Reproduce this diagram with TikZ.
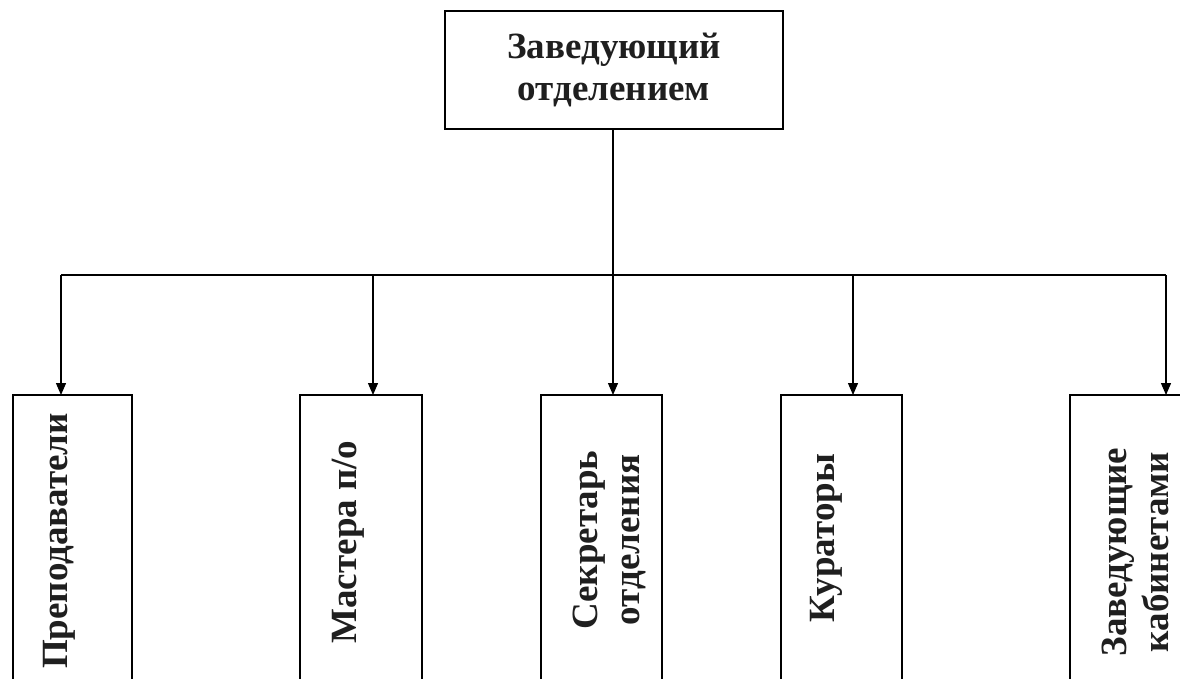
\documentclass[tikz,border=0pt]{standalone}
\usepackage{fontspec}
\setmainfont{Liberation Serif}
\usetikzlibrary{arrows.meta}
\begin{document}
\begin{tikzpicture}[x=1pt,y=-1pt,
  lab/.style={font=\bfseries\fontsize{37}{42}\selectfont, inner sep=0pt, text=black!88},
  topbox/.style={draw, line width=1.8pt, minimum width=338pt, minimum height=118pt, inner sep=0pt},
  subbox/.style={draw, line width=1.8pt, inner sep=0pt},
  conn/.style={line width=1.3pt},
  arr/.style={conn, -{Triangle[length=12pt,width=10pt]}}
]
\useasboundingbox (0,0) rectangle (1180,678);
\clip (0,0) rectangle (1180,678);
\fill[white] (0,0) rectangle (1180,678);

% top box
\node[topbox] (top) at (614,70) {};
\node[lab, align=center] (toptext) at (614,70) {Заведующий\\отделением};

% lower boxes (extend below the page)
\draw[subbox] (13,395) rectangle (132,720);
\coordinate (b1) at (72.5,395);
\draw[subbox] (300,395) rectangle (422,720);
\coordinate (b2) at (361,395);
\draw[subbox] (541,395) rectangle (662,720);
\coordinate (b3) at (601.5,395);
\draw[subbox] (781,395) rectangle (902,720);
\coordinate (b4) at (841.5,395);
\draw[subbox] (1070,395) rectangle (1195,720);
\coordinate (b5) at (1132.5,395);

% texts
\node[lab, rotate=90, anchor=base] (t1) at (67,541) {Преподаватели};
\node[lab, rotate=90, anchor=base] (t2) at (356,542) {Мастера п/о};
\node[lab, rotate=90, align=center] (t3) at (609,540) {Секретарь\\отделения};
\node[lab, rotate=90, anchor=base] (t4) at (834,538) {Кураторы};
\node[lab, rotate=90, align=center] (t5) at (1135,552) {Заведующие\\кабинетами};

% connectors
\coordinate (hub) at (613,275);
\coordinate (j1) at (61,275);
\coordinate (j2) at (373,275);
\coordinate (j3) at (613,275);
\coordinate (j4) at (853,275);
\coordinate (j5) at (1166,275);
\draw[conn] (top.south -| hub) -- (hub);
\draw[conn] (j1) -- (j5);
\draw[arr] (j1) -- (j1 |- b1);
\draw[arr] (j2) -- (j2 |- b2);
\draw[arr] (j3) -- (j3 |- b3);
\draw[arr] (j4) -- (j4 |- b4);
\draw[arr] (j5) -- (j5 |- b5);
\end{tikzpicture}
\end{document}
